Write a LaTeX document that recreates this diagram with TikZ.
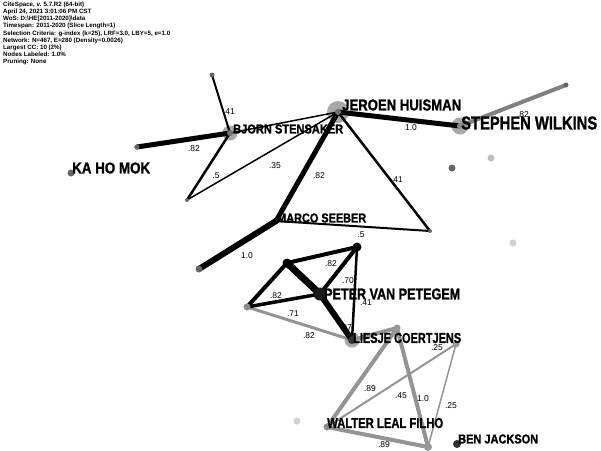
\documentclass[tikz,border=0pt]{standalone}
\usepackage{fontspec}
\setmainfont{Liberation Sans}
\newfontfamily\heavyfont{Liberation Sans}[UprightFont=* Bold, FakeBold=1.3]
\newcommand{\fitlab}[3]{\resizebox{#1pt}{#2pt}{\heavyfont #3}}
\begin{document}
\begin{tikzpicture}[x=1pt,y=-1pt,
  edgeblack/.style={draw=black,line cap=round},
  edgegray/.style={draw=black!42,line cap=round},
  elab/.style={font=\fontsize{8.5}{9}\selectfont,inner sep=0pt,text=black},
  nlab/.style={anchor=west,inner sep=0pt},
  dot/.style={circle,fill=black!60,minimum size=6pt,inner sep=0pt},
  ldot/.style={circle,fill=black!25,minimum size=6pt,inner sep=0pt},
  halo/.style={circle,fill=black!45,opacity=0.75,inner sep=0pt},
  pt/.style={inner sep=0pt,minimum size=0pt}]
\useasboundingbox (0,0) rectangle (601,450);
\fill[white] (0,0) rectangle (601,450);
% header
\node[anchor=north west,inner sep=0pt,align=left,font=\fontsize{6.2}{7.1}\selectfont\bfseries] (hdr) at (3,2)
{CiteSpace, v. 5.7.R2 (64-bit)\\
April 24, 2021 3:01:06 PM CST\\
WoS: D:\textbackslash HE[2011-2020]\textbackslash data\\
Timespan: 2011-2020 (Slice Length=1)\\
Selection Criteria: g-index (k=25), LRF=3.0, LBY=5, e=1.0\\
Network: N=467, E=280 (Density=0.0026)\\
Largest CC: 10 (2\%)\\
Nodes Labeled: 1.0\%\\
Pruning: None};
% coordinates of nodes
\coordinate (JH) at (338,112);
\coordinate (SW) at (460,126);
\coordinate (SWt) at (566,85);
\coordinate (BS) at (230,133);
\coordinate (BSt) at (212,75);
\coordinate (BSl) at (137,147);
\coordinate (KM) at (71,173);
\coordinate (T1) at (187,200);
\coordinate (MS) at (276,221);
\coordinate (T2) at (430,231);
\coordinate (MSl) at (199,269);
\coordinate (A) at (357,247);
\coordinate (B) at (287,263);
\coordinate (PV) at (320,294);
\coordinate (C) at (247,307);
\coordinate (LC) at (352,340);
\coordinate (D) at (397,328);
\coordinate (E) at (456,344);
\coordinate (WL) at (327,427);
\coordinate (F) at (428,447);
\coordinate (BJ) at (457,444);
% halos
\node[halo,minimum size=22pt] at (JH) {};
\node[halo,minimum size=17pt] at (SW) {};
\node[halo,minimum size=15pt] at (BS) {};
\node[halo,minimum size=15pt] at (LC) {};
% gray edges
\draw[edgegray,line width=4pt,draw=black!50] (SW) -- (SWt);
\draw[edgegray,line width=3pt] (C) -- (LC);
\draw[edgegray,line width=4pt] (LC) -- (D);
\draw[edgegray,line width=4pt] (D) -- (WL);
\draw[edgegray,line width=4pt] (D) -- (F);
\draw[edgegray,line width=2pt] (WL) -- (E);
\draw[edgegray,line width=1.5pt] (E) -- (F);
\draw[edgegray,line width=4pt] (WL) -- (F);
% black edges
\draw[edgeblack,line width=5pt] (JH) -- (SW);
\draw[edgeblack,line width=1.5pt] (JH) -- (BS);
\draw[edgeblack,line width=5pt] (BS) -- (BSl);
\draw[edgeblack,line width=2pt] (BS) -- (BSt);
\draw[edgeblack,line width=2.5pt] (BS) -- (T1);
\draw[edgeblack,line width=1.5pt] (T1) -- (JH);
\draw[edgeblack,line width=5pt] (JH) -- (MS);
\draw[edgeblack,line width=2.5pt] (JH) -- (T2);
\draw[edgeblack,line width=2pt] (MS) -- (T2);
\draw[edgeblack,line width=6pt] (MS) -- (MSl);
\draw[edgeblack,line width=4pt] (B) -- (A);
\draw[edgeblack,line width=7pt] (B) -- (PV);
\draw[edgeblack,line width=4pt] (B) -- (C);
\draw[edgeblack,line width=3.5pt] (C) -- (PV);
\draw[edgeblack,line width=6pt] (PV) -- (LC);
\draw[edgeblack,line width=4pt] (A) -- (PV);
\draw[edgeblack,line width=2.5pt] (A) -- (LC);
% node dots
\node[dot,minimum size=5pt] (nBSt) at (BSt) {};
\node[dot,minimum size=5pt] (nBSl) at (BSl) {};
\node[dot,minimum size=7pt] (nKM) at (KM) {};
\node[dot,minimum size=4pt] (nT1) at (T1) {};
\node[dot,minimum size=4pt] (nT2) at (T2) {};
\node[dot,minimum size=7pt] (nMSl) at (MSl) {};
\node[dot,minimum size=9pt,fill=black] (nA) at (A) {};
\node[dot,minimum size=9pt,fill=black] (nB) at (B) {};
\node[dot,minimum size=13pt,fill=black!90] (nPV) at (PV) {};
\node[dot,minimum size=7pt,fill=black!45] (nC) at (C) {};
\node[dot,minimum size=8pt,fill=black!80] (nLC) at (LC) {};
\node[ldot,minimum size=7pt,fill=black!40] (nD) at (D) {};
\node[ldot,minimum size=7pt,fill=black!40] (nE) at (E) {};
\node[dot,minimum size=7pt,fill=black!45] (nWL) at (WL) {};
\node[ldot,minimum size=8pt,fill=black!40] (nF) at (F) {};
\node[dot,minimum size=8pt,fill=black!80] (nBJ) at (BJ) {};
\node[dot,minimum size=6pt,fill=black!55] (nJH) at (JH) {};
\node[dot,minimum size=6pt,fill=black!45] (nSW) at (SW) {};
\node[dot,minimum size=6pt,fill=black!55] (nBS) at (BS) {};
\node[dot,minimum size=5pt] (nSWt) at (SWt) {};
% isolated dots
\node[dot,minimum size=7pt,fill=black!60] (i1) at (452,168) {};
\node[ldot,minimum size=7pt] (i2) at (491,158) {};
\node[ldot,minimum size=7pt,fill=black!18] (i3) at (513,243) {};
\node[ldot,minimum size=7pt,fill=black!18] (i4) at (297,421) {};
% edge labels
\node[elab] (l1) at (411,128) {1.0};
\node[elab] (l2) at (523,115) {.82};
\node[elab] (l3) at (194,149) {.82};
\node[elab] (l4) at (229,112) {.41};
\node[elab] (l5) at (216,176) {.5};
\node[elab] (l6) at (275,166) {.35};
\node[elab] (l7) at (319,176) {.82};
\node[elab] (l8) at (397,180) {.41};
\node[elab] (l9) at (247,256) {1.0};
\node[elab] (l10) at (361,235) {.5};
\node[elab] (l11) at (331,264) {.82};
\node[elab] (l12) at (348,281) {.70};
\node[elab] (l13) at (366,303) {.41};
\node[elab] (l14) at (276,296) {.82};
\node[elab] (l15) at (293,314) {.71};
\node[elab] (l16) at (309,336) {.82};
\node[elab] (l17) at (346,328) {.97};
\node[elab] (l18) at (437,348) {.25};
\node[elab] (l19) at (370,389) {.89};
\node[elab] (l20) at (401,396) {.45};
\node[elab] (l21) at (423,399) {1.0};
\node[elab] (l22) at (451,406) {.25};
\node[elab] (l23) at (384,445) {.89};
% node labels
\node[nlab] (tJH) at (342,105) {\fitlab{119}{11}{JEROEN HUISMAN}};
\node[nlab] (tSW) at (461,123) {\fitlab{136}{13}{STEPHEN WILKINS}};
\node[nlab] (tBS) at (233,129) {\fitlab{110}{9}{BJORN STENSAKER}};
\node[nlab] (tKM) at (72,168) {\fitlab{78}{11}{KA HO MOK}};
\node[nlab] (tMS) at (277,218) {\fitlab{89}{9}{MARCO SEEBER}};
\node[nlab] (tPV) at (324,294) {\fitlab{136}{11}{PETER VAN PETEGEM}};
\node[nlab] (tLC) at (353,338) {\fitlab{108}{10}{LIESJE COERTJENS}};
\node[nlab] (tWL) at (327,423) {\fitlab{116}{10}{WALTER LEAL FILHO}};
\node[nlab] (tBJ) at (458,439) {\fitlab{80}{9}{BEN JACKSON}};
\end{tikzpicture}
\end{document}
